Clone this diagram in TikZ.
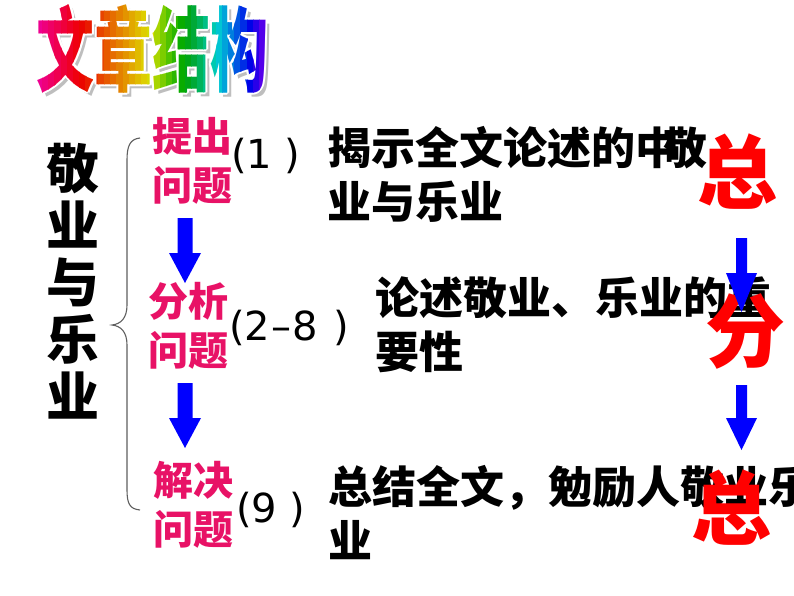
\documentclass[tikz,border=0pt]{standalone}
\usepackage{fontspec}
\usetikzlibrary{calc}
\newfontfamily\cjk{Noto Sans CJK SC}
\newfontfamily\latf{DejaVu Sans}
\definecolor{pinkc}{RGB}{232,18,102}
\definecolor{redc}{RGB}{255,0,0}
\definecolor{bluec}{RGB}{0,0,255}
\definecolor{bracec}{RGB}{95,95,95}
\definecolor{shadowc}{RGB}{190,190,190}
\newcommand{\blockarrow}[5]{%
  \fill[bluec] ($(#1)+(-#3,0)$) -- ($(#1)+(#3,0)$) -- ($(#2)+(#3,-#5)$) -- ($(#2)+(#4,-#5)$)
    -- (#2) -- ($(#2)+(-#4,-#5)$) -- ($(#2)+(-#3,-#5)$) -- cycle;}
\tikzset{
  titlestyle/.style={font=\cjk\bfseries\fontsize{92}{92}\selectfont, inner sep=0, xscale=0.63},
  bigtxt/.style={font=\cjk\bfseries\fontsize{53}{57}\selectfont, inner sep=0, align=center},
  pinklab/.style={font=\cjk\bfseries\fontsize{40}{49}\selectfont, text=pinkc, inner sep=0, align=center},
  partxt/.style={font=\latf\fontsize{40}{48}\selectfont, inner sep=0, anchor=west},
  bodytxt/.style={font=\cjk\bfseries\fontsize{44}{54}\selectfont, inner sep=0, align=left, anchor=west},
  redbig/.style={font=\cjk\bfseries\fontsize{80}{80}\selectfont, text=redc, inner sep=0},
  bracestyle/.style={draw=bracec, line width=1.1pt}
}
\begin{document}
\begin{tikzpicture}[x=1pt,y=-1pt]
\useasboundingbox (0,0) rectangle (794,596);
\fill[white] (0,0) rectangle (794,596);
% title shadow
\begin{scope}[shift={(156.5,52.5)}]
  \node[titlestyle,text=shadowc] (titleshadow) at (0,0) {文章结构};
\end{scope}
% white rim around the title
\foreach \dx/\dy [count=\k] in {2/0,-2/0,0/2,0/-2,1.5/1.5,-1.5/1.5,1.5/-1.5,-1.5/-1.5} {
  \begin{scope}[shift={(152.5+\dx,48.5+\dy)}]
    \node[titlestyle,text=white] (titlerim\k) at (0,0) {文章结构};
  \end{scope}
}
% rainbow title, drawn in narrow clipped strips
\foreach \i in {0,...,39} {
  \pgfmathsetmacro\xa{30+\i*6.2}
  \pgfmathsetmacro\xm{\xa+3.1}
  \pgfmathsetmacro\hh{\xm<150 ? -40+(\xm-35)*0.8696 : 60+(\xm-150)*1.7917}
  \pgfmathsetmacro\hue{mod(\hh+360,360)}
  \pgfmathsetmacro\tq{(\hue-130)/45}
  \pgfmathsetmacro\bb{0.95-0.3/(1+\tq*\tq)}
  \definecolor{stripraw}{Hsb}{\hue,1,\bb}
  \colorlet{strip}[rgb]{stripraw}
  \begin{scope}
    \clip (\xa,0) rectangle (\xa+6.5,100);
    \begin{scope}[shift={(152.5,48.5)}]
      \node[titlestyle,text=strip] (title\i) at (0,0) {文章结构};
    \end{scope}
  \end{scope}
}
% left vertical title
\node[bigtxt] (topic) at (73,281.5) {敬\\业\\与\\乐\\业};
% brace
\draw[bracestyle] (140,138) .. controls (130,139) and (127,146) .. (127,160) -- (127,305)
  .. controls (127,318) and (121,324) .. (112,325)
  .. controls (121,326) and (127,332) .. (127,345) -- (127,490)
  .. controls (127,504) and (130,509) .. (140,510);
% pink stage labels
\node[pinklab] (s1) at (192,160.5) {提出\\问题};
\node[pinklab] (s2) at (188,326) {分析\\问题};
\node[pinklab] (s3) at (193,504.5) {解决\\问题};
% paragraph labels
\node[partxt] (p1) at (231,156) {(1 )};
\node[partxt] (p2) at (229,328) {(2\kern1pt–\kern1pt8\kern3pt\ )};
\node[partxt] (p3) at (236,510) {(9 )};
% body texts
\node[bodytxt] (t1) at (327,174) {揭示全文论述的中\kern-0.35em敬\\业与乐业};
\node[bodytxt] (t2) at (375,324.5) {论述敬业、乐业的重\\要性};
\node[bodytxt] (t3) at (328,513) {总结全文，勉励人敬业乐\\业};
% right red characters
\node[redbig] (r1) at (737,172) {总};
\node[redbig] (r2) at (745,331) {分};
\node[redbig] (r3) at (731,508) {总};
% arrows
\coordinate (la1s) at (185,218); \coordinate (la1e) at (185,283);
\coordinate (la2s) at (185,383); \coordinate (la2e) at (185,448);
\coordinate (ra1s) at (741.5,238); \coordinate (ra1e) at (741.5,312);
\coordinate (ra2s) at (741.5,385); \coordinate (ra2e) at (741.5,450);
\blockarrow{la1s}{la1e}{7.5}{16}{30}
\blockarrow{la2s}{la2e}{7.5}{16}{30}
\blockarrow{ra1s}{ra1e}{5.5}{15.5}{39}
\blockarrow{ra2s}{ra2e}{5.5}{15.5}{32}
\end{tikzpicture}
\end{document}
